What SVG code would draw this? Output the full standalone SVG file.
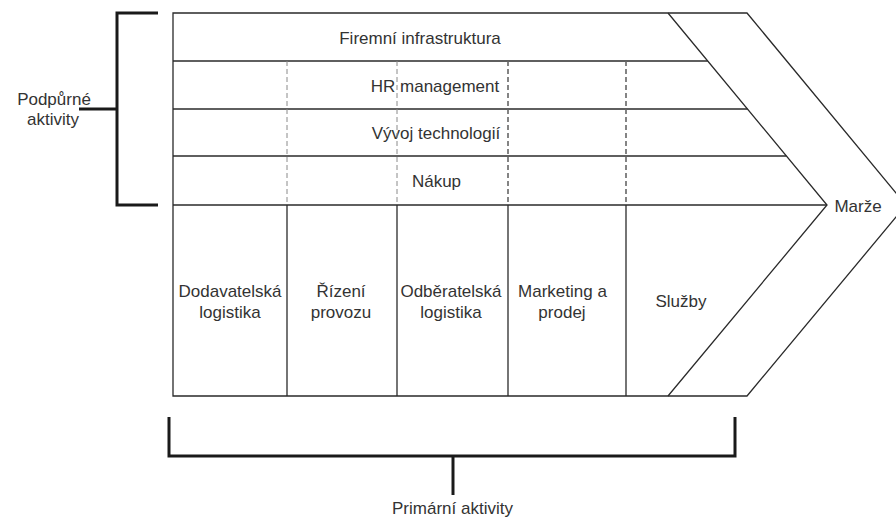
<svg xmlns="http://www.w3.org/2000/svg" width="896" height="518" viewBox="0 0 896 518">
<style>
.ln{fill:none;stroke:#2a2a2a;stroke-width:1.3;stroke-linejoin:miter}
.dash{fill:none;stroke:#8a8a8a;stroke-width:1;stroke-dasharray:5 3}
.dash2{fill:none;stroke:#666;stroke-width:1.6;stroke-dasharray:5 3}
.br{fill:none;stroke:#1a1a1a;stroke-width:3}
.t{font-family:"Liberation Sans",Arial,sans-serif;font-size:17px;fill:#333;text-anchor:middle}
</style>
<rect width="896" height="518" fill="#fff"/>
<g id="value-chain">
<path class="ln" d="M173,13 H747 L906,205 L747,396 H173 Z"/>
<path class="ln" d="M668,13 L827,205 L668,396"/>
</g>
<g id="firemni-infrastruktura">
<text class="t" x="420" y="44">Firemní infrastruktura</text>
</g>
<g id="hr-management">
<line class="ln" x1="173" y1="61" x2="707.7" y2="61"/>
<text class="t" x="435" y="92">HR management</text>
</g>
<g id="vyvoj-technologii">
<line class="ln" x1="173" y1="109" x2="747.5" y2="109"/>
<text class="t" x="436" y="139">Vývoj technologií</text>
</g>
<g id="nakup">
<line class="ln" x1="173" y1="156" x2="786.4" y2="156"/>
<text class="t" x="436.5" y="187">Nákup</text>
</g>
<g id="dividers">
<line class="ln" x1="173" y1="205" x2="827" y2="205"/>
<line class="dash" x1="287" y1="61" x2="287" y2="205"/>
<line class="dash" x1="397" y1="61" x2="397" y2="205"/>
<line class="dash2" x1="508" y1="61" x2="508" y2="205"/>
<line class="dash2" x1="626" y1="61" x2="626" y2="205"/>
<line class="ln" x1="287" y1="205" x2="287" y2="396"/>
<line class="ln" x1="397" y1="205" x2="397" y2="396"/>
<line class="ln" x1="508" y1="205" x2="508" y2="396"/>
<line class="ln" x1="626" y1="205" x2="626" y2="396"/>
</g>
<g id="dodavatelska-logistika">
<text class="t" x="230" y="297">Dodavatelská</text>
<text class="t" x="230" y="318">logistika</text>
</g>
<g id="rizeni-provozu">
<text class="t" x="341" y="297">Řízení</text>
<text class="t" x="341" y="318">provozu</text>
</g>
<g id="odberatelska-logistika">
<text class="t" x="451" y="297">Odběratelská</text>
<text class="t" x="451" y="318">logistika</text>
</g>
<g id="marketing-prodej">
<text class="t" x="562.5" y="297">Marketing a</text>
<text class="t" x="562" y="318">prodej</text>
</g>
<g id="sluzby">
<text class="t" x="681" y="307">Služby</text>
</g>
<g id="marze">
<text class="t" x="858" y="212">Marže</text>
</g>
<g id="connectors">
<path class="br" d="M158,13 H117 V205 H158"/>
<line class="br" x1="79" y1="109" x2="117" y2="109"/>
<path class="br" d="M169,417 V456 H735 V417"/>
<line class="br" x1="453" y1="456" x2="453" y2="495"/>
</g>
<g id="podpurne-aktivity">
<text class="t" x="54" y="105">Podpůrné</text>
<text class="t" x="53" y="125">aktivity</text>
</g>
<g id="primarni-aktivity">
<text class="t" x="452.5" y="514">Primární aktivity</text>
</g>
</svg>
